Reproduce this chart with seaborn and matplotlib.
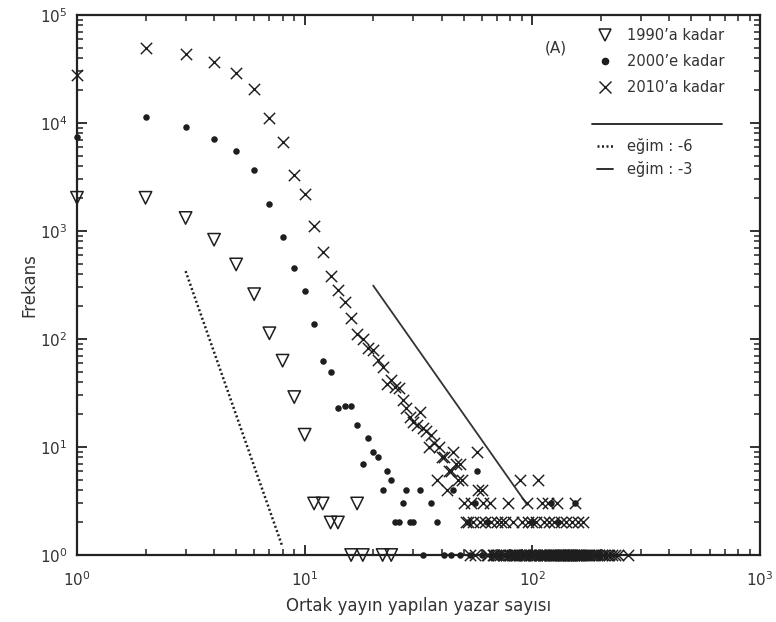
import numpy as np
import matplotlib
matplotlib.use("Agg")
import matplotlib.pyplot as plt
import seaborn as sns
from matplotlib.lines import Line2D

# Frequency of co-author counts, cumulative up to 1990
x_1990 = [1, 2, 3, 4, 5, 6, 7, 8, 9, 10,
          11, 12, 13, 14, 17, 16, 18, 22, 24]
y_1990 = [2030, 2030, 1320, 830, 490, 260, 113, 63, 29, 13,
          3, 3, 2, 2, 3, 1, 1, 1, 1]

# up to 2000
x_2000 = [1, 2, 3, 4, 5, 6, 7, 8, 9, 10,
          11, 12, 13, 14, 15, 16, 17, 18, 19, 20,
          21, 22, 23, 24, 25, 26, 27, 28, 29, 30,
          32, 33, 36, 38, 45, 56, 57, 121, 154, 52,
          63, 100, 130, 41, 44, 48, 53, 60, 66, 72,
          78, 85, 92, 99, 107, 115, 124, 134, 145, 160,
          178, 195]
y_2000 = [7450, 11300, 9100, 7100, 5500, 3670, 1780, 880, 457, 280,
          137, 63, 49, 23, 24, 24, 16, 7, 12, 9,
          8, 4, 6, 5, 2, 2, 3, 4, 2, 2,
          4, 1, 3, 2, 4, 3, 6, 3, 3, 2,
          2, 2, 2, 1, 1, 1, 1, 1, 1, 1,
          1, 1, 1, 1, 1, 1, 1, 1, 1, 1,
          1, 1]

# up to 2010
x_2010 = [1, 2, 3, 4, 5, 6, 7, 8, 9, 10,
          11, 12, 13, 14, 15, 16, 17, 18, 19, 20,
          21, 22, 23, 24, 25, 26, 27, 28, 29, 30,
          31, 32, 33, 34, 35, 36, 37, 38, 39, 40,
          41, 42, 43, 44, 45, 46, 47, 48, 49, 50,
          54, 61, 65, 78, 95, 110, 117, 128, 154, 57,
          58, 60, 88, 106, 51, 52, 55, 59, 62, 66,
          70, 73, 76, 82, 90, 96, 100, 104, 112, 118,
          125, 133, 140, 150, 158, 167]
y_2010 = [28000, 49000, 43600, 37000, 28800, 20600, 11200, 6600, 3300, 2200,
          1110, 640, 380, 285, 220, 157, 111, 101, 82, 79,
          64, 55, 38, 42, 36, 35, 27, 23, 19, 17,
          16, 21, 15, 14, 10, 13, 11, 5, 10, 8,
          8, 4, 6, 6, 9, 7, 5, 7, 5, 3,
          3, 3, 3, 3, 3, 3, 3, 3, 3, 9,
          4, 4, 5, 5, 2, 2, 2, 2, 2, 2,
          2, 2, 2, 2, 2, 2, 2, 2, 2, 2,
          2, 2, 2, 2, 2, 2]

# up to 2010, counts seen only once
x_2010_once = [53, 56, 63, 64, 67, 68, 69, 71, 72, 74,
               75, 77, 79, 80, 81, 83, 84, 85, 86, 87,
               89, 91, 92, 93, 94, 97, 98, 99, 101, 102,
               103, 105, 107, 108, 109, 111, 113, 114, 115, 116,
               119, 120, 121, 122, 123, 124, 126, 127, 129, 130,
               131, 132, 134, 135, 136, 137, 138, 139, 141, 142,
               143, 144, 145, 146, 147, 148, 149, 151, 152, 153,
               155, 156, 157, 159, 160, 162, 164, 166, 169, 172,
               175, 178, 181, 185, 189, 193, 197, 202, 207, 212,
               218, 224, 231, 237, 263]
y_2010_once = [1, 1, 1, 1, 1, 1, 1, 1, 1, 1,
               1, 1, 1, 1, 1, 1, 1, 1, 1, 1,
               1, 1, 1, 1, 1, 1, 1, 1, 1, 1,
               1, 1, 1, 1, 1, 1, 1, 1, 1, 1,
               1, 1, 1, 1, 1, 1, 1, 1, 1, 1,
               1, 1, 1, 1, 1, 1, 1, 1, 1, 1,
               1, 1, 1, 1, 1, 1, 1, 1, 1, 1,
               1, 1, 1, 1, 1, 1, 1, 1, 1, 1,
               1, 1, 1, 1, 1, 1, 1, 1, 1, 1,
               1, 1, 1, 1, 1]

# Reference power-law slopes: y = C * x**slope
slope_a, coef_a, xr_a = -6, 3.1e5, [3, 8]
slope_b, coef_b, xr_b = -3, 2.5e6, [20, 95]

legend_labels = ["1990\u2019a kadar", "2000\u2019e kadar", "2010\u2019a kadar"]
slope_labels = ["e\u011fim : -6", "e\u011fim : -3"]

sns.set_theme(style="ticks")
plt.rcParams["font.family"] = ["DejaVu Sans"]

ink = "#1e1e1e"
fig = plt.figure(figsize=(7.76, 6.22), dpi=100)
ax = fig.add_axes([0.0992, 0.1077, 0.8802, 0.8682])

sns.scatterplot(x=x_1990, y=y_1990, marker="v", s=80, facecolor="none",
                edgecolor=ink, linewidth=1.1, ax=ax, clip_on=False, zorder=3)
sns.scatterplot(x=x_2000, y=y_2000, marker="o", s=22, color=ink,
                edgecolor=ink, linewidth=0, ax=ax, clip_on=False, zorder=3)
sns.scatterplot(x=x_2010 + x_2010_once, y=y_2010 + y_2010_once, marker="x",
                s=66, color=ink, linewidth=1.05, ax=ax, clip_on=False, zorder=3)

xa = np.array(xr_a, dtype=float)
xb = np.array(xr_b, dtype=float)
sns.lineplot(x=xa, y=coef_a * xa ** slope_a, ax=ax, color=ink, lw=1.8,
             linestyle=(0, (0.8, 1.0)))
sns.lineplot(x=xb, y=coef_b * xb ** slope_b, ax=ax, color="#333333", lw=1.3)

ax.set_xscale("log")
ax.set_yscale("log")
ax.set_xlim(1, 1000)
ax.set_ylim(1, 1e5)

for side in ["left", "right", "top", "bottom"]:
    ax.spines[side].set_visible(True)
    ax.spines[side].set_linewidth(1.6)
    ax.spines[side].set_color("#222222")
ax.tick_params(which="both", direction="in", top=True, right=True,
               color="#222222", labelcolor="#333333", labelsize=11)
ax.tick_params(which="major", length=7, width=1.3)
ax.tick_params(which="minor", length=4, width=1.1)
ax.tick_params(axis="x", which="major", pad=11)
ax.tick_params(axis="y", which="major", pad=7)

ax.set_xlabel("Ortak yay\u0131n yap\u0131lan yazar say\u0131s\u0131", fontsize=12,
              color="#333333", labelpad=6)
ax.set_ylabel("Frekans", fontsize=12, color="#333333", labelpad=1)

marker_handles = [
    Line2D([], [], ls="none", marker="v", ms=9, mfc="none", mec=ink, mew=1.1),
    Line2D([], [], ls="none", marker="o", ms=4.5, mfc=ink, mec=ink),
    Line2D([], [], ls="none", marker="x", ms=8, mec=ink, mew=1.05),
]
leg1 = ax.legend(marker_handles, legend_labels, loc="upper left",
                 bbox_to_anchor=(0.761, 0.975), frameon=False, fontsize=10.5,
                 handlelength=1.1, handletextpad=0.95, labelspacing=0.75,
                 borderpad=0, borderaxespad=0, labelcolor="#333333")
ax.add_artist(leg1)

line_handles = [
    Line2D([], [], color=ink, lw=1.8, ls=(0, (0.8, 1.0))),
    Line2D([], [], color=ink, lw=1.3),
]
ax.legend(line_handles, slope_labels, loc="upper left",
          bbox_to_anchor=(0.761, 0.772), frameon=False, fontsize=10.5,
          handlelength=1.1, handletextpad=0.95, labelspacing=0.45,
          borderpad=0, borderaxespad=0, labelcolor="#333333")

ax.plot([0.754, 0.944], [0.798, 0.798], transform=ax.transAxes,
        color=ink, lw=1.3)
ax.text(0.701, 0.939, "(A)", transform=ax.transAxes, fontsize=11,
        color="#333333", ha="center", va="center")

fig.savefig("out.png", dpi=100)
